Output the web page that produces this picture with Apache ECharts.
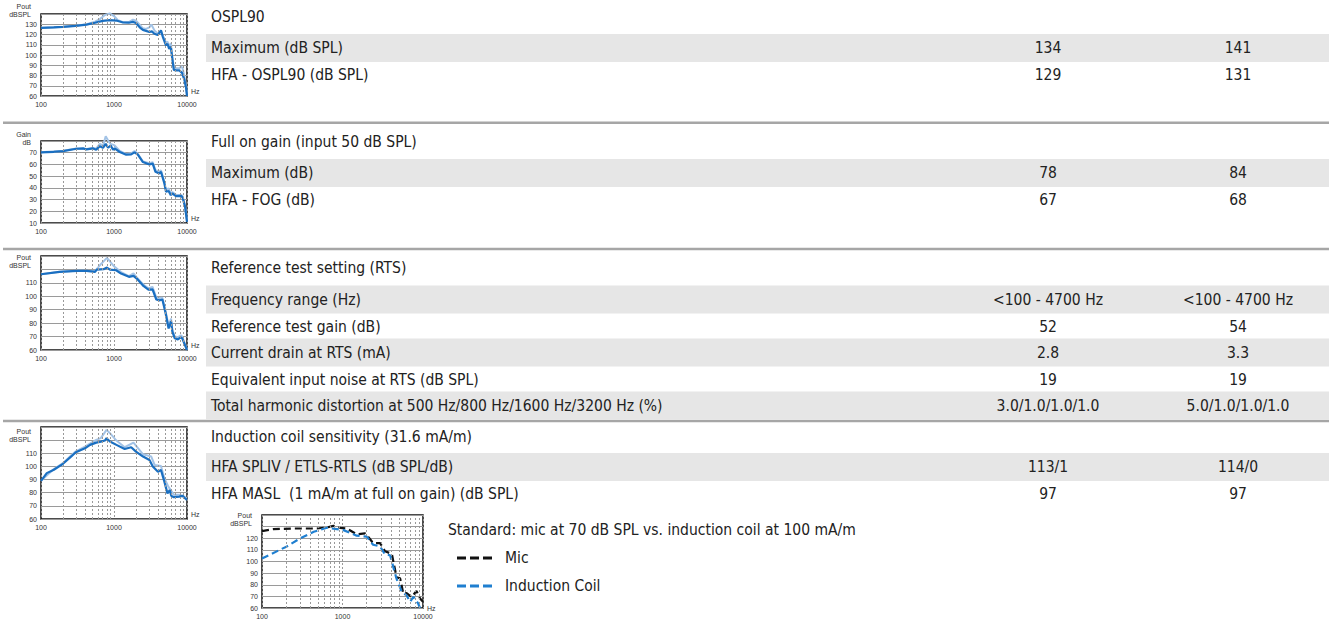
<!DOCTYPE html>
<html>
<head>
<meta charset="utf-8">
<script src="https://cdn.jsdelivr.net/npm/echarts@6/dist/echarts.min.js"></script>
<style>
  html, body { margin: 0; padding: 0; background: #fff; }
  #main { width: 1329px; height: 620px; }
</style>
</head>
<body>
<div id="main"></div>
<script>
// ---- Response curves (frequency in Hz, level in dB) ----
const osplFreqA = [100,150,200,300,420,550,700,875,1075,1330,1600,1820,2000,2250,2490,2750,3050,3300,3580,3970,4400,4650,5150,5400,5700,6000,6300,6600,7080,7860,8550,9200,9700,10000];
const osplA     = [126.4,127,127.5,128.5,129.7,131.5,133.3,134,133.6,131.7,131.5,132.3,131.3,127,124.5,123.5,122.4,123,120.7,119.5,124,118,109.5,111,106,108,96,85.5,85,85,82.6,76,68,60];
const osplFreqB = [100,200,300,420,550,640,750,875,1000,1130,1330,1600,1820,2000,2250,2490,2750,3050,3250,3580,3970,4400,4650,5150,5400,5700,6000,6300,6600,7080,7860,8300,8700,9200,9700,10000];
const osplB     = [126.4,127.5,128.6,130,132.5,135,139,140.6,138,134,132,132,134.5,133.5,129.5,126,125.5,127,129.7,124,121,123.5,119,112,113,108,111.5,98,88,87,87,89,87,79,70,62];

const gainFreqA = [100,150,200,306,378,420,517,570,638,707,770,830,900,970,1020,1200,1470,1720,1910,2120,2490,3050,3390,3700,4170,4400,4900,5150,5600,6000,6300,7080,8280,8700,9400,10000];
const gainA     = [70.3,70.8,71.4,73.4,73.7,72.8,73.7,72.5,75.6,74.2,77.6,74.2,76.2,72.5,73.7,70.6,68.3,68.6,70.3,68.3,62,59.9,60.7,53.7,52.3,53.7,43.8,36.8,37.3,33.8,35.2,33,33.2,31.8,24,11];
const gainFreqB = [100,200,306,420,517,570,638,707,770,830,900,1020,1200,1470,1720,1910,2120,2490,3050,3390,3700,4170,4400,4900,5150,5600,6000,6300,7080,8280,8700,9400,10000];
const gainB     = [70.3,71.6,73.6,73.2,74,73.5,77.6,76,84,80.4,77.6,76.3,71.5,68.8,69.5,71.4,69,62.5,61,62,55,54,55,45,38.5,39.5,35,36.5,34,34,33,25,12];

const rtsFreqA = [100,180,310,420,550,580,720,800,880,1070,1250,1600,1850,2050,2550,2960,3370,3800,4170,4600,5080,5600,6050,6300,6800,7500,8200,8600,9000,10000];
const rtsA     = [116.4,118.2,118.9,118.9,118.2,119.9,120.2,121.4,119.9,119.4,116.9,114.5,115.2,113.2,107.5,105,105.2,97.6,97,97.6,87.7,76,81.4,73.6,68.7,67.9,69.4,68.7,66,60];
const rtsFreqB = [100,180,310,550,640,720,800,880,1000,1250,1600,1850,2050,2550,2960,3370,3800,4170,4600,5080,5600,6050,6300,6800,7500,8200,8600,9000,10000];
const rtsB     = [116.4,118.3,119,118.8,123.1,126,128.6,126,122.3,118,115,117,114,108.5,106,107,99,98.8,99,89,78,83.4,75,70,69.5,71,70,67,60.5];

const coilFreqA = [100,120,150,200,260,300,400,470,570,660,750,790,880,1080,1400,1720,2000,2500,3060,3400,4000,4400,4900,5400,5800,6100,6600,7800,8700,9300,10000];
const coilA     = [89,94.9,97.5,102,107.6,110.8,113.8,116.4,118.1,118.9,119.7,121.5,119,116.4,113.3,114.6,111.3,107.5,104.9,100,96,97.3,88.4,79.5,82,77.6,76.6,77,77.6,76,74.5];
const coilFreqB = [100,150,200,260,300,400,570,660,790,880,1080,1400,1850,2500,3240,3600,4400,4900,5550,6000,6600,8000,9200,10000];
const coilB     = [89,98,102.5,108.5,111.5,115,120.2,121.5,127.8,125.3,119.7,114.6,118.1,109.2,107.5,101.1,100.3,91,84.6,82,78.4,78.4,77,75.5];

const micFreq  = [100,138,246,480,640,770,935,1130,1500,1900,2000,2400,2930,3380,4100,4700,5200,5700,6250,7200,8300,9200,10000];
const micLevel = [126.2,127.8,128.4,128.4,129.3,130.7,129,128.4,123.4,124.2,122.8,115.8,115.8,108.8,106.5,86.4,85.5,72.3,72.9,69.5,74.6,68.1,65.3];
const indFreq  = [100,204,300,440,640,850,1030,1500,2000,2400,2930,3380,3900,4700,5450,6250,6900,7600,8700,9200];
const indLevel = [102.6,113,120,125.6,129,127.8,127,122.2,121.4,114.4,113,106,105.4,85,73.8,70.9,65.3,69.5,63.9,60];

// minor frequency grid lines of the log axes
const minorFreqs = [200,300,400,500,600,700,800,900,2000,3000,4000,5000,6000,7000,8000,9000];

// ---- Table content ----
const osplTitle = 'OSPL90';
const osplRows = [
  ['Maximum (dB SPL)', '134', '141'],
  ['HFA - OSPL90 (dB SPL)', '129', '131']
];
const gainTitle = 'Full on gain (input 50 dB SPL)';
const gainRows = [
  ['Maximum (dB)', '78', '84'],
  ['HFA - FOG (dB)', '67', '68']
];
const rtsTitle = 'Reference test setting (RTS)';
const rtsRows = [
  ['Frequency range (Hz)', '<100 - 4700 Hz', '<100 - 4700 Hz'],
  ['Reference test gain (dB)', '52', '54'],
  ['Current drain at RTS (mA)', '2.8', '3.3'],
  ['Equivalent input noise at RTS (dB SPL)', '19', '19'],
  ['Total harmonic distortion at 500 Hz/800 Hz/1600 Hz/3200 Hz (%)', '3.0/1.0/1.0/1.0', '5.0/1.0/1.0/1.0']
];
const coilTitle = 'Induction coil sensitivity (31.6 mA/m)';
const coilRows = [
  ['HFA SPLIV / ETLS-RTLS (dB SPL/dB)', '113/1', '114/0'],
  ['HFA MASL  (1 mA/m at full on gain) (dB SPL)', '97', '97']
];
const standardNote = 'Standard: mic at 70 dB SPL vs. induction coil at 100 mA/m';
const legendNames = ['Mic', 'Induction Coil'];

// ---- Layout ----
const FONT = '"Liberation Sans Narrow", "DejaVu Sans Condensed", "Liberation Sans", Arial, sans-serif';
const TICK_FONT = '"Liberation Sans", Arial, sans-serif';
const TEXT_SIZE = 15.5;
const TEXT_COLOR = '#222';
const STRIPE = '#e6e6e6';
const RULE = '#a6a6a6';
const valueCols = [1048, 1238];
const sections = [
  { title: osplTitle, rows: osplRows, titleY: 17,  rowY: [48, 75] },
  { title: gainTitle, rows: gainRows, titleY: 142, rowY: [173, 199.5] },
  { title: rtsTitle,  rows: rtsRows,  titleY: 268, rowY: [299.5, 326.5, 352.5, 379.5, 405.5] },
  { title: coilTitle, rows: coilRows, titleY: 437, rowY: [467, 493.5] }
];
const rules = [122.8, 249, 421];

function label(text, x, y, align) {
  return {
    type: 'text', x: x, y: y, z: 5,
    style: { text: text, font: TEXT_SIZE + 'px ' + FONT, fill: TEXT_COLOR, align: align || 'left', verticalAlign: 'middle' }
  };
}

const graphics = [];
rules.forEach(y => graphics.push({
  type: 'rect', silent: true, z: 0,
  shape: { x: 3, y: y - 1.3, width: 1326, height: 2.6 },
  style: { fill: RULE }
}));
sections.forEach(sec => {
  graphics.push(label(sec.title, 211, sec.titleY));
  sec.rows.forEach((row, i) => {
    const y = sec.rowY[i];
    if (i % 2 === 0) {
      graphics.push({
        type: 'rect', silent: true, z: 0,
        shape: { x: 206, y: y - 14, width: 1123, height: 28 },
        style: { fill: STRIPE }
      });
    }
    graphics.push(label(row[0], 211, y));
    graphics.push(label(row[1], valueCols[0], y, 'center'));
    graphics.push(label(row[2], valueCols[1], y, 'center'));
  });
});
graphics.push(label(standardNote, 448, 529.5));

// ---- Plot panels ----
const panels = [
  { grid: { left: 41, top: 14, width: 146, height: 82 },   yMin: 60, yMax: 140, labelTop: 130, name: 'Pout\ndBSPL', nameGap: 4,    hzAlign: 'bottom' },
  { grid: { left: 41, top: 141, width: 146, height: 82 },  yMin: 10, yMax: 80,  labelTop: 70,  name: 'Gain\ndB',    nameGap: 3,    hzAlign: 'bottom' },
  { grid: { left: 41, top: 256, width: 146, height: 94 },  yMin: 60, yMax: 130, labelTop: 110, name: 'Pout\ndBSPL', nameGap: -5,   hzAlign: 'bottom' },
  { grid: { left: 41, top: 427, width: 146, height: 92 },  yMin: 60, yMax: 130, labelTop: 110, name: 'Pout\ndBSPL', nameGap: -8,   hzAlign: 'bottom' },
  { grid: { left: 262, top: 515, width: 161, height: 95 }, yMin: 60, yMax: 140, labelTop: 120, name: 'Pout\ndBSPL', nameGap: -4.5, hzAlign: 'middle' }
];

const tickFont = { fontSize: 7, color: '#333', fontFamily: TICK_FONT };

const grid = panels.map(p => Object.assign({
  show: true, borderColor: '#111', borderWidth: 1.5, backgroundColor: 'transparent'
}, p.grid));

const xAxis = panels.map((p, i) => ({
  type: 'log', logBase: 10, gridIndex: i, min: 100, max: 10000,
  name: 'Hz', nameLocation: 'end', nameGap: 4,
  nameTextStyle: Object.assign({ verticalAlign: p.hzAlign, padding: [0, 0, 1, 0] }, tickFont),
  axisLine: { show: false }, axisTick: { show: false },
  axisLabel: Object.assign({ margin: 5, formatter: v => String(v) }, tickFont),
  splitLine: { show: true, lineStyle: { color: '#999', width: 1, type: [2, 2] } }
}));

const yAxis = panels.map((p, i) => ({
  type: 'value', gridIndex: i, min: p.yMin, max: p.yMax, interval: 10,
  name: p.name, nameLocation: 'end', nameGap: p.nameGap,
  nameTextStyle: Object.assign({ align: 'right', verticalAlign: 'middle', lineHeight: 8, padding: [0, 10, 0, 0] }, tickFont),
  axisLine: { show: false }, axisTick: { show: false },
  axisLabel: Object.assign({ margin: 4, formatter: v => (v > p.labelTop ? '' : String(v)) }, tickFont),
  splitLine: { show: true, lineStyle: { color: '#9a9a9a', width: 1 } }
}));

const pairs = (f, v) => f.map((x, i) => [x, v[i]]);

function minorGrid(i) {
  return {
    type: 'line', xAxisIndex: i, yAxisIndex: i, data: [], z: 1, silent: true,
    markLine: {
      silent: true, symbol: 'none', label: { show: false }, animation: false,
      lineStyle: { color: '#999', width: 1, type: [2, 2] },
      data: minorFreqs.map(f => ({ xAxis: f }))
    }
  };
}

const DARK = '#1a6fc1';
const LIGHT = '#a3c3e6';
function curve(i, f, v, color, width) {
  return {
    type: 'line', xAxisIndex: i, yAxisIndex: i, data: pairs(f, v),
    symbol: 'none', clip: false, z: 3, animation: false,
    lineStyle: { color: color, width: width }, itemStyle: { color: color }
  };
}

const series = [];
[[osplFreqA, osplA, osplFreqB, osplB],
 [gainFreqA, gainA, gainFreqB, gainB],
 [rtsFreqA, rtsA, rtsFreqB, rtsB],
 [coilFreqA, coilA, coilFreqB, coilB]].forEach((d, i) => {
  series.push(minorGrid(i));
  series.push(curve(i, d[2], d[3], LIGHT, 2));
  series.push(curve(i, d[0], d[1], DARK, 2.2));
});
series.push(minorGrid(4));
series.push({
  name: legendNames[0], type: 'line', xAxisIndex: 4, yAxisIndex: 4,
  data: pairs(micFreq, micLevel), symbol: 'none', z: 3, animation: false,
  lineStyle: { color: '#111', width: 2.2, type: [7, 4] }, itemStyle: { color: '#111' }
});
series.push({
  name: legendNames[1], type: 'line', xAxisIndex: 4, yAxisIndex: 4,
  data: pairs(indFreq, indLevel), symbol: 'none', z: 3, animation: false,
  lineStyle: { color: '#1f7fd0', width: 2.2, type: [7, 4] }, itemStyle: { color: '#1f7fd0' }
});

const chart = echarts.init(document.getElementById('main'), null, { renderer: 'svg' });
chart.setOption({
  animation: false,
  backgroundColor: '#fff',
  grid: grid,
  xAxis: xAxis,
  yAxis: yAxis,
  legend: {
    data: legendNames, orient: 'vertical', left: 452, top: 545,
    icon: 'path://M0,0h9v3h-9z M13,0h9v3h-9z M26,0h9v3h-9z',
    itemWidth: 35, itemHeight: 3, itemGap: 12,
    textStyle: { fontSize: TEXT_SIZE, lineHeight: 16, color: TEXT_COLOR, fontFamily: FONT, padding: [0, 0, 0, 8] }
  },
  graphic: graphics,
  series: series
});
</script>
</body>
</html>
